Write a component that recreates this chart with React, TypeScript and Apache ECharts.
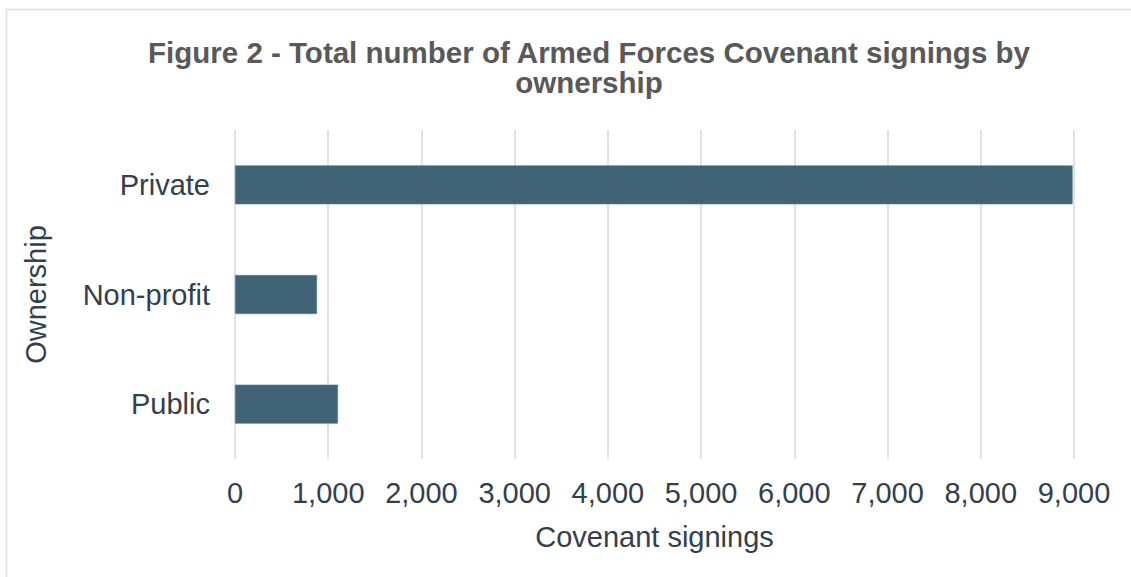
import React, { useEffect, useRef } from "react";
import * as echarts from "echarts";

const categories = ["Private", "Non-profit", "Public"];
const signings = [8985, 880, 1105];
const xTicks = { min: 0, max: 9000, interval: 1000 };

const FONT = "'Liberation Sans', Arial, sans-serif";

export default function App() {
  const ref = useRef<HTMLDivElement>(null);
  useEffect(() => {
    if (!ref.current) return;
    const chart = echarts.init(ref.current, null, { renderer: "svg" });
    chart.setOption({
      animation: false,
      backgroundColor: "#ffffff",
      title: {
        text: "Figure 2 - Total number of Armed Forces Covenant signings by\nownership",
        left: 584,
        top: 32,
        textAlign: "center",
        textStyle: {
          fontFamily: FONT,
          fontSize: 29.5,
          fontWeight: "bold",
          color: "#595959",
          lineHeight: 30,
        },
      },
      graphic: [
        {
          type: "rect",
          shape: { x: 6.5, y: 9.5, width: 1300, height: 700 },
          style: { fill: "none", stroke: "#dcdfe3", lineWidth: 1.5 },
          silent: true,
        },
      ],
      grid: { left: 235, right: 57, top: 130, bottom: 118, containLabel: false },
      xAxis: {
        type: "value",
        min: xTicks.min,
        max: xTicks.max,
        interval: xTicks.interval,
        name: "Covenant signings",
        nameLocation: "middle",
        nameGap: 63,
        nameTextStyle: { fontFamily: FONT, fontSize: 29, color: "#333f4b" },
        axisLine: { show: false },
        axisTick: { show: false },
        axisLabel: {
          margin: 19,
          fontFamily: FONT,
          fontSize: 29,
          color: "#333f4b",
          formatter: (v: number) => v.toLocaleString("en-US"),
        },
        splitLine: { show: true, lineStyle: { color: "#dfe3e8", width: 2 } },
      },
      yAxis: {
        type: "category",
        data: categories,
        inverse: true,
        name: "Ownership",
        nameLocation: "middle",
        nameGap: 185,
        nameTextStyle: { fontFamily: FONT, fontSize: 29, color: "#333f4b" },
        axisLine: { show: false },
        axisTick: { show: false },
        axisLabel: { margin: 25, fontFamily: FONT, fontSize: 29, color: "#333f4b" },
        splitLine: { show: false },
      },
      series: [
        {
          type: "bar",
          data: signings,
          barWidth: 39,
          itemStyle: { color: "#406475", borderColor: "#5a7d8d", borderWidth: 0.6 },
        },
      ],
    });
    return () => chart.dispose();
  }, []);
  return (
    <div
      ref={ref}
      style={{ position: "absolute", left: 0, top: 0, width: 1131, height: 577 }}
    />
  );
}
